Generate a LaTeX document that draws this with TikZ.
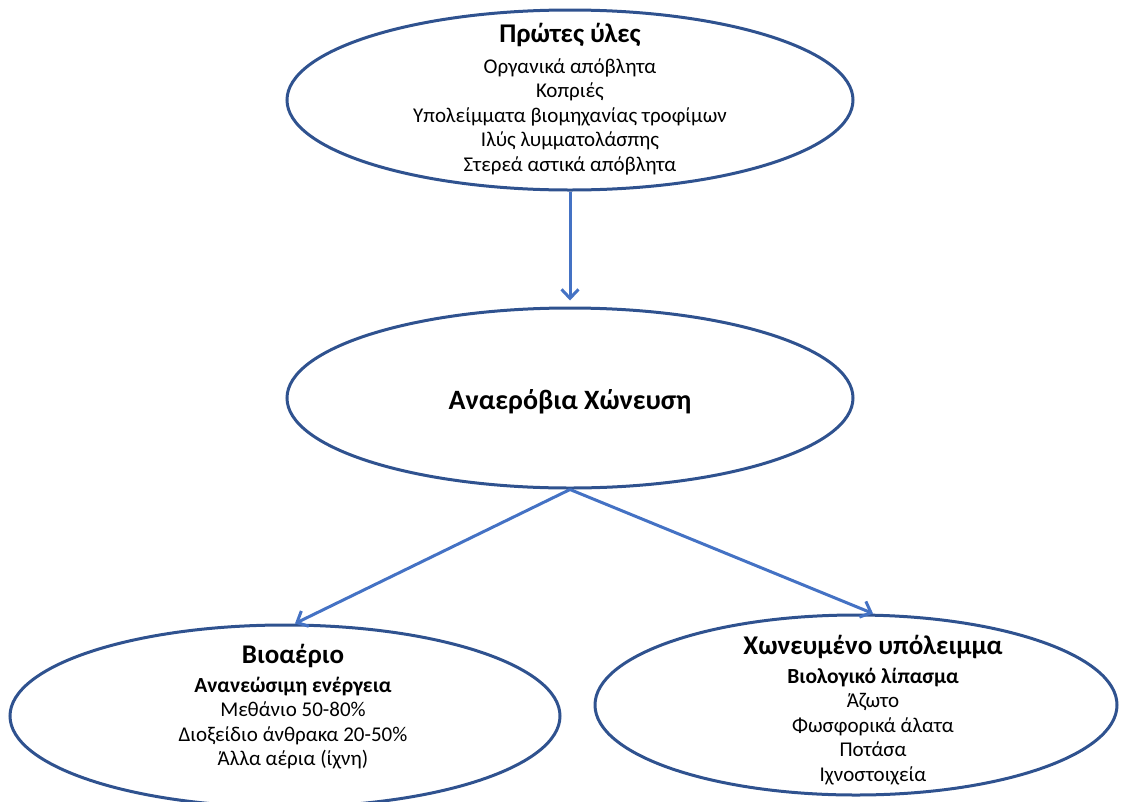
\documentclass[tikz,border=0pt]{standalone}
\usepackage{fontspec}
\setmainfont{Carlito}
\usetikzlibrary{shapes.geometric,arrows.meta}
\definecolor{rimblue}{RGB}{47,82,143}
\definecolor{flowblue}{RGB}{68,114,196}

\begin{document}
\begin{tikzpicture}[x=1pt,y=-1pt,
    bubble/.style={ellipse, draw=rimblue, line width=3pt, inner sep=0pt},
    flow/.style={draw=flowblue, line width=3pt, -{Straight Barb[length=9pt,width=17pt]}},
    body/.style={align=center, font=\fontsize{21}{24.5}\selectfont}]
    \useasboundingbox (0,0) rectangle (1122,801);
    \coordinate (R) at (570,100); \coordinate (A) at (570,398);
    \coordinate (G) at (285,716); \coordinate (D) at (856,705);

    \node[bubble, minimum width=566pt, minimum height=180pt] (raw) at (R) {};
    \node[bubble, minimum width=566pt, minimum height=180pt] (digest) at (A) {};
    \node[bubble, minimum width=550pt, minimum height=182pt] (gas) at (G) {};
    \node[bubble, minimum width=522pt, minimum height=180pt] (rest) at (D) {};

    \node[body] (rawtxt) at (570,99) {{\bfseries\fontsize{27}{25}\selectfont Πρώτες ύλες}\\[6pt]
        Οργανικά απόβλητα\\ Κοπριές\\ Υπολείμματα βιομηχανίας τροφίμων\\
        Ιλύς λυμματολάσπης\\ Στερεά αστικά απόβλητα};
    \node[font=\bfseries\fontsize{28}{28}\selectfont] (digtxt) at (570,402) {Αναερόβια Χώνευση};
    \node[body] (gastxt) at (293,707) {{\bfseries\fontsize{27}{25}\selectfont Βιοαέριο}\\[4pt]
        {\bfseries\fontsize{21.5}{22}\selectfont Ανανεώσιμη ενέργεια}\\ Μεθάνιο 50-80\%\\
        Διοξείδιο άνθρακα 20-50\%\\ Άλλα αέρια (ίχνη)};
    \node[body] (resttxt) at (873,710) {{\bfseries\fontsize{27}{25}\selectfont Χωνευμένο υπόλειμμα}\\[4pt]
        {\bfseries\fontsize{21.5}{22}\selectfont Βιολογικό λίπασμα}\\ Άζωτο\\ Φωσφορικά άλατα\\
        Ποτάσα\\ Ιχνοστοιχεία};

    \draw[flow, shorten >=6pt] (raw) -- (digest);
    \draw[flow] (digest.south) -- ([xshift=10pt]gas.north);
    \draw[flow] (digest.south) -- ([xshift=17pt]rest.north);
\end{tikzpicture}
\end{document}
